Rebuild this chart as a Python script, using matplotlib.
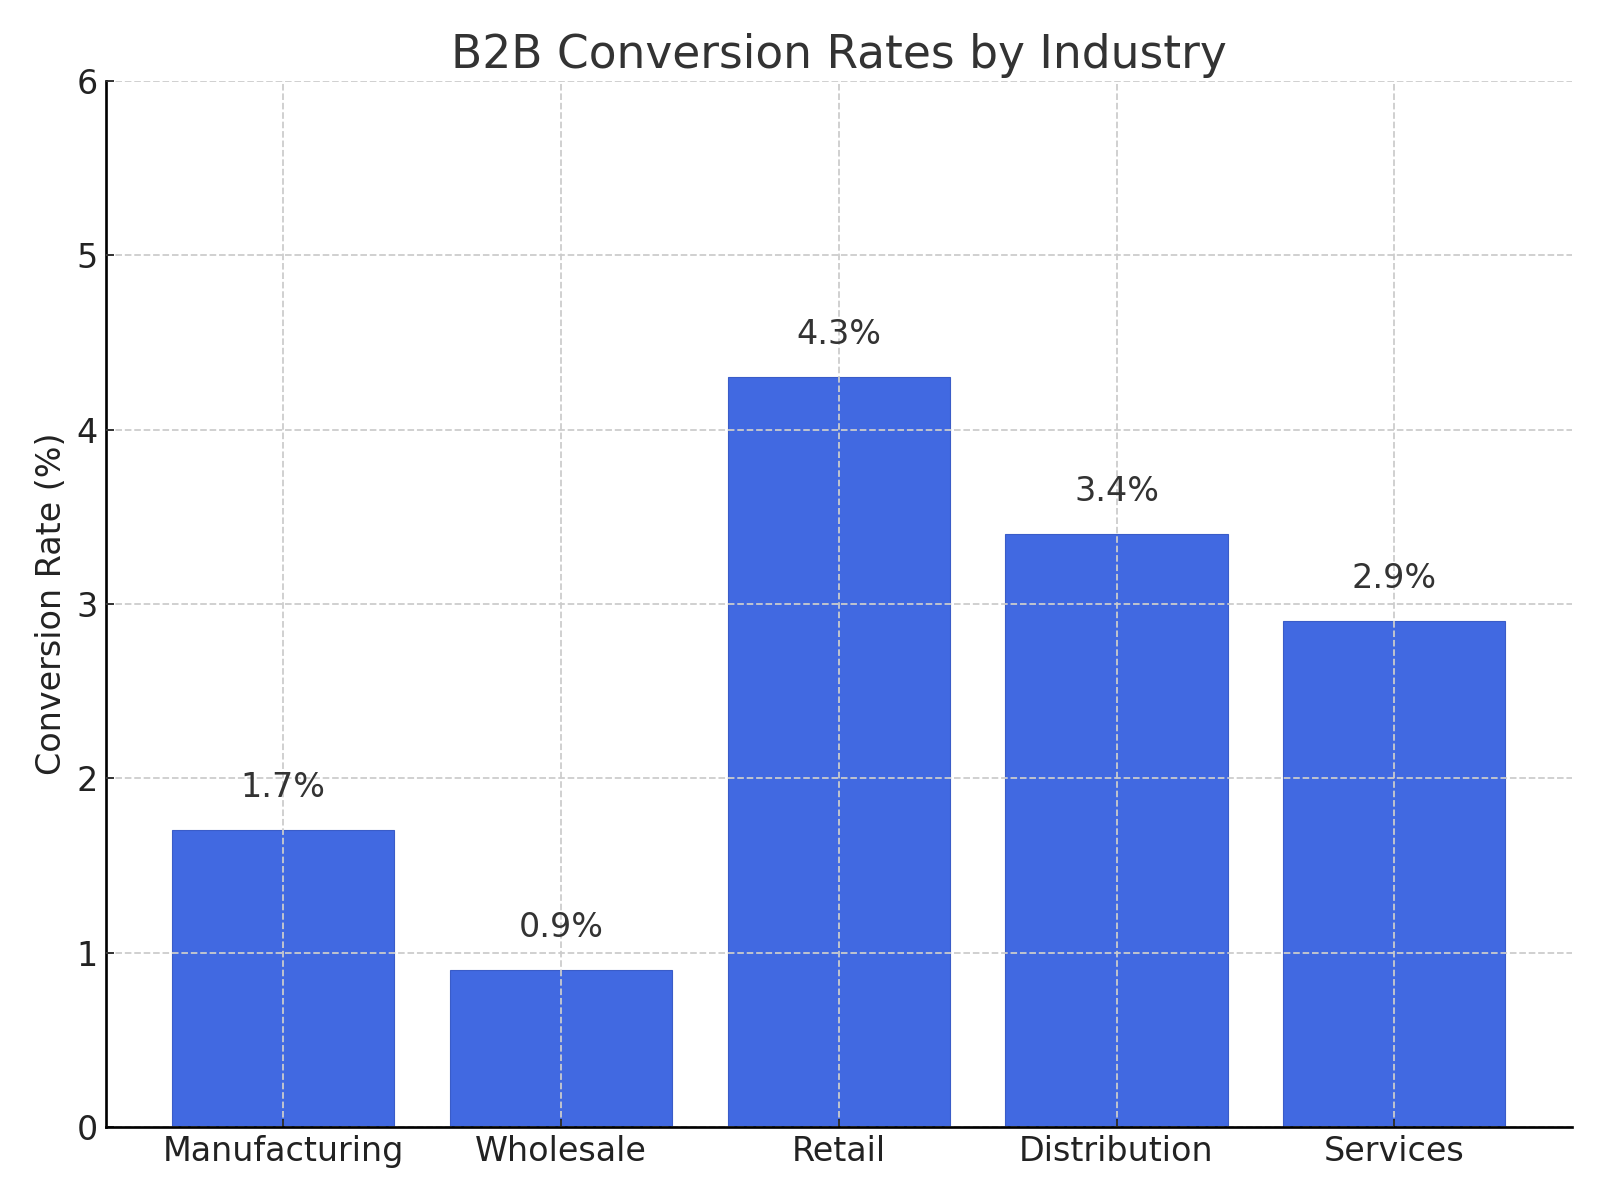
import matplotlib.pyplot as plt

industries = ['Manufacturing', 'Wholesale', 'Retail', 'Distribution', 'Services']
conversion_rates = [1.7, 0.9, 4.3, 3.4, 2.9]

fig, ax = plt.subplots(figsize=(10, 7.5), dpi=160)
fig.subplots_adjust(left=0.066, right=0.9825, top=0.9325, bottom=0.061)

bars = ax.bar(industries, conversion_rates, color='royalblue', width=0.8,
              edgecolor='#3a5cc8', linewidth=0.5, zorder=1)

for bar, rate in zip(bars, conversion_rates):
    ax.text(bar.get_x() + bar.get_width() / 2, bar.get_height() + 0.15,
            f'{rate}%', ha='center', va='bottom', fontsize=15, color='#333333')

ax.set_title('B2B Conversion Rates by Industry', fontsize=20.5, color='#333333')
ax.set_ylabel('Conversion Rate (%)', fontsize=15, color='#222222')
ax.set_ylim(0, 6)
ax.tick_params(direction='in', labelsize=15, colors='#222222')
ax.grid(True, linestyle='--', color='#cccccc', linewidth=0.8, zorder=2)
ax.set_axisbelow(False)
ax.spines['top'].set_visible(False)
ax.spines['right'].set_visible(False)
ax.spines['left'].set_linewidth(1.2)
ax.spines['bottom'].set_linewidth(1.2)
ax.spines['bottom'].set_zorder(3)

plt.savefig('out.png')
